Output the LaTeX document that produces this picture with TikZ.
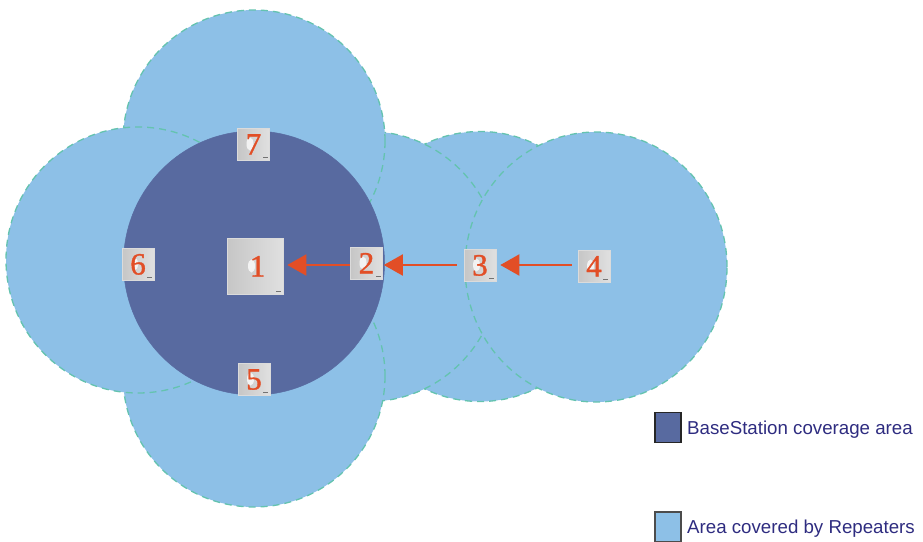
\documentclass[tikz,border=0pt]{standalone}
\usepackage{fontspec}
\setmainfont{Liberation Serif}
\newfontfamily\legendfont{Liberation Sans}
\newfontfamily\numfont[FakeBold=1.2]{Liberation Serif}
\usetikzlibrary{arrows.meta,shapes.geometric}
\definecolor{repfill}{RGB}{141,192,231}
\definecolor{basefill}{RGB}{88,106,160}
\definecolor{dashgreen}{RGB}{100,195,175}
\definecolor{numred}{RGB}{226,78,38}
\definecolor{legtext}{RGB}{46,44,128}
\definecolor{boxdark}{RGB}{198,198,198}
\definecolor{boxlight}{RGB}{224,224,224}
\tikzset{
  x=1pt,y=-1pt,
  repcircle/.style 2 args={ellipse,fill=repfill,draw=dashgreen,line width=1.3pt,dash pattern=on 7pt off 5pt,
    inner sep=0pt,outer sep=0pt,minimum width=#1,minimum height=#2},
  basecircle/.style={ellipse,fill=basefill,draw=basefill,line width=.5pt,inner sep=0pt,outer sep=0pt,minimum width=261pt,minimum height=264pt},
  unitbox/.style={draw=white!72!gray,line width=.6pt,left color=boxdark,right color=boxlight,
    text=numred,font=\numfont\fontsize{31}{31}\selectfont,inner sep=0pt,minimum size=#1,text height=21pt,text depth=0pt,
    path picture={
      \fill[white,opacity=.75] ([xshift=-3.5pt]path picture bounding box.center) ellipse (3.5 and 6.5);
      \fill[black!55] ([xshift=-7pt,yshift=2.5pt]path picture bounding box.south east) rectangle ([xshift=-2pt,yshift=3.5pt]path picture bounding box.south east);
    }},
  unitbox/.default=32pt,
  link/.style={numred,line width=2pt,-{Triangle[length=19pt,width=21pt]}},
  legbox/.style={line width=1.5pt,inner sep=0pt,minimum width=26pt,minimum height=30pt},
  legtxt/.style={text=legtext,font=\legendfont\fontsize{18.7}{20}\selectfont,anchor=base west,inner sep=0pt}
}
\begin{document}
\begin{tikzpicture}
\useasboundingbox (0,0) rectangle (923,541);
% repeater areas, lowest first
\node[repcircle={262pt}{270pt}] (cm) at (480,266.5) {};
\node[repcircle={262pt}{270pt}] (cr) at (369,266.5) {};
\node[repcircle={262pt}{270pt}] (cf) at (596,267) {};
\node[repcircle={262pt}{262pt}] (ct) at (254,141) {};
\node[repcircle={262pt}{262pt}] (cb) at (254,376) {};
\node[repcircle={264pt}{266pt}] (cl) at (138,260) {};
\node[basecircle] (base) at (254,263) {};
% units
\node[unitbox=56pt] (n1) at (255,266) {\,1};
\node[unitbox] (n2) at (366.5,263) {2};
\node[unitbox] (n3) at (480,265) {3};
\node[unitbox] (n4) at (594,266) {4};
\node[unitbox] (n5) at (254,379) {5};
\node[unitbox] (n6) at (138,264) {6};
\node[unitbox] (n7) at (253.5,144) {7};
% links
\draw[link,shorten >=4pt] (n2.west |- 0,265) -- (n1.east |- 0,265);
\draw[link,shorten <=7pt,shorten >=1pt] (n3.west |- 0,265) -- (n2.east |- 0,265);
\draw[link,shorten <=6pt,shorten >=4pt] (n4.west |- 0,265) -- (n3.east |- 0,265);
% legend
\node[legbox,fill=basefill,draw=black!85] (leg1) at (668,427.5) {};
\node[legtxt] (txt1) at (687,434) {BaseStation coverage area};
\node[legbox,fill=repfill,draw=black!70] (leg2) at (668,527) {};
\node[legtxt] (txt2) at (687,533) {Area covered by Repeaters};
\end{tikzpicture}
\end{document}
